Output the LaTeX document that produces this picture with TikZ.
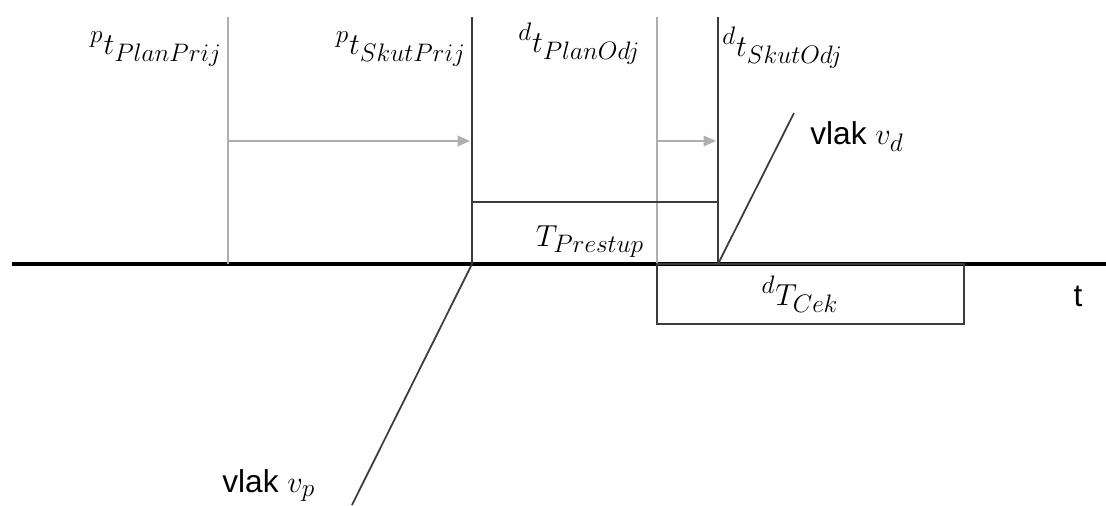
\documentclass[tikz,border=0pt]{standalone}
\usepackage{fontspec}
\setmainfont{Liberation Sans}
\usetikzlibrary{arrows.meta, positioning}
\DeclareMathSizes{18}{18}{14.5}{11}
\definecolor{plangray}{RGB}{175,175,175}
\definecolor{skutgray}{RGB}{60,60,60}

\begin{document}
\begin{tikzpicture}[x=0.02cm, y=-0.02cm,
    axis/.style={line width=2.2pt, black},
    planline/.style={plangray, line width=0.9pt},
    skutline/.style={skutgray, line width=1pt},
    shiftarrow/.style={plangray, line width=0.9pt, -{Triangle[length=7pt, width=6pt]}},
    mlabel/.style={font=\fontsize{18}{21}\selectfont, inner sep=0pt},
    tlabel/.style={font=\fontsize{18}{21}\selectfont, inner sep=0pt}]
  \useasboundingbox (0,0) rectangle (1106,505);

  % time axis
  \coordinate (axL) at (12,264);
  \coordinate (axR) at (1106,264);
  \draw[axis] (axL) -- (axR);
  \node[tlabel] (tAxis) at (1078,296) {t};

  % planned and real times
  \coordinate (planPrijTop) at (228,17);
  \coordinate (planPrijBot) at (228,264);
  \coordinate (skutPrijTop) at (472,17);
  \coordinate (skutPrijBot) at (472,264);
  \coordinate (planOdjTop) at (657,17);
  \coordinate (planOdjBot) at (657,264);
  \coordinate (skutOdjTop) at (718,17);
  \coordinate (skutOdjBot) at (718,264);
  \draw[planline] (planPrijTop) -- (planPrijBot);
  \draw[skutline] (skutPrijTop) -- (skutPrijBot);
  \draw[planline] (planOdjTop) -- (planOdjBot);
  \draw[skutline] (skutOdjTop) -- (skutOdjBot);

  \node[mlabel, anchor=base east] (lPlanPrij) at (222,54) {$^{p}t_{PlanPrij}$};
  \node[mlabel, anchor=base east] (lSkutPrij) at (466,54) {$^{p}t_{SkutPrij}$};
  \node[mlabel, anchor=base west] (lPlanOdj) at (518,52) {$^{d}t_{PlanOdj}$};
  \node[mlabel, anchor=base west] (lSkutOdj) at (722,56) {$^{d}t_{SkutOdj}$};

  % delays
  \coordinate (prijShiftA) at (228,141);
  \coordinate (prijShiftB) at (470,141);
  \coordinate (odjShiftA) at (657,141);
  \coordinate (odjShiftB) at (716,141);
  \draw[shiftarrow] (prijShiftA) -- (prijShiftB);
  \draw[shiftarrow] (odjShiftA) -- (odjShiftB);

  % transfer time
  \coordinate (prestupL) at (472,202);
  \coordinate (prestupR) at (718,202);
  \draw[skutline] (prestupL) -- (prestupR);
  \node[mlabel, anchor=base] (lPrestup) at (590,246) {$T_{Prestup}$};

  % waiting time
  \coordinate (cekTL) at (657,264);
  \coordinate (cekBR) at (964,324);
  \draw[skutline] (cekTL) rectangle (cekBR);
  \node[mlabel, anchor=base] (lCek) at (800,305) {$^{d}T_{Cek}$};

  % trains
  \coordinate (vdTop) at (794,113);
  \coordinate (vpBot) at (352,505);
  \draw[skutline] (skutOdjBot) -- (vdTop);
  \draw[skutline] (skutPrijBot) -- (vpBot);
  \node[tlabel, anchor=base west] (lVd) at (810,144) {vlak $v_d$};
  \node[tlabel, anchor=base west] (lVp) at (222,492) {vlak $v_p$};
\end{tikzpicture}
\end{document}
